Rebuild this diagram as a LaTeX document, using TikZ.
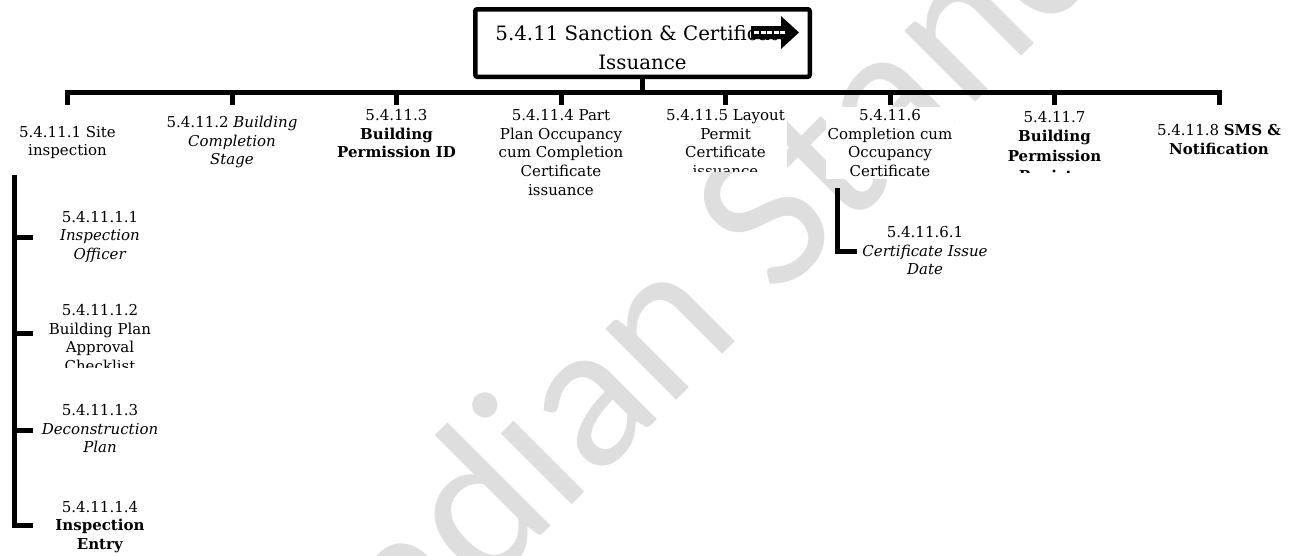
\documentclass[tikz,border=0pt]{standalone}
\usepackage{fontspec}
\setmainfont{DejaVu Serif}
\newfontfamily\wmfont{Carlito}
\begin{document}
\begin{tikzpicture}[x=1pt, y=-1pt, every node/.style={align=center, inner sep=2pt, fill=white, font=\fontsize{15}{18.8}\selectfont}]
\tikzset{conn/.style={line width=5pt}}
\useasboundingbox (0,0) rectangle (1289,555);

% watermark
\node[fill=none, inner sep=0pt, text=black!13, font=\wmfont\fontsize{210}{210}\selectfont, rotate=45] (wm) at (793,182) {Indian Standard};

% root box
\node[draw, line width=4.5pt, rounded corners=2pt, minimum width=334.5pt, minimum height=67.5pt] (root) at (642.5,43) {};
\node[fill=none, font=\fontsize{19.8}{29}\selectfont] (title) at (642.5,48) {5.4.11 Sanction \& Certificate\\Issuance};
\fill (751,26) -- (781,26) -- (781,16) -- (799,32.5) -- (781,49) -- (781,39) -- (751,39) -- cycle;
\draw[white, line width=2.5pt, dash pattern=on 5pt off 1.5pt] (754,32.5) -- (786,32.5);

% bus and drops
\coordinate (b0) at (642.5,92.5);
\coordinate (b1) at (67.5,92.5);
\coordinate (b2) at (232,92.5);
\coordinate (b3) at (396.5,92.5);
\coordinate (b4) at (561,92.5);
\coordinate (b5) at (725.5,92.5);
\coordinate (b6) at (890,92.5);
\coordinate (b7) at (1054.5,92.5);
\coordinate (b8) at (1219,92.5);
\coordinate (d1) at (67.5,105);
\coordinate (d2) at (232,105);
\coordinate (d3) at (396.5,105);
\coordinate (d4) at (561,105);
\coordinate (d5) at (725.5,105);
\coordinate (d6) at (890,105);
\coordinate (d7) at (1054.5,105);
\coordinate (d8) at (1219,105);

\node[anchor=north] (n1) at (67.5,123.7) {5.4.11.1 Site\\inspection};
\node[anchor=north] (n2) at (232,113.7) {5.4.11.2 \textit{Building}\\\textit{Completion}\\\textit{Stage}};
\node[anchor=north] (n3) at (396.5,107) {5.4.11.3\\\textbf{Building}\\\textbf{Permission ID}};
\node[anchor=north] (n4) at (561,107) {5.4.11.4 Part\\Plan Occupancy\\cum Completion\\Certificate\\issuance};
\begin{scope}
\clip (640,100) rectangle (810,171);
\node[anchor=north] (n5) at (725.5,107) {5.4.11.5 Layout\\Permit\\Certificate\\issuance};
\end{scope}
\node[anchor=north] (n6) at (890,107) {5.4.11.6\\Completion cum\\Occupancy\\Certificate};
\begin{scope}
\clip (970,100) rectangle (1140,172);
\node[anchor=north, font=\fontsize{15}{19.8}\selectfont] (n7) at (1054.5,108.7) {5.4.11.7\\\textbf{Building}\\\textbf{Permission}\\\textbf{Register}};
\end{scope}
\node[anchor=north] (n8) at (1219,122) {5.4.11.8 \textbf{SMS \&}\\\textbf{Notification}};

\draw[conn] (root.south) -- (b0);
\draw[conn] (d1) -- (b1) -- (b8) -- (d8);
\draw[conn] (b2) -- (d2);
\draw[conn] (b3) -- (d3);
\draw[conn] (b4) -- (d4);
\draw[conn] (b5) -- (d5);
\draw[conn] (b6) -- (d6);
\draw[conn] (b7) -- (d7);

% site inspection children
\coordinate (k0) at (14.5,175);
\coordinate (e1) at (33,237);
\coordinate (e2) at (33,333.5);
\coordinate (e3) at (33,430);
\coordinate (e4) at (33,525.5);
\node[anchor=north] (c1) at (100,208.7) {5.4.11.1.1\\\textit{Inspection}\\\textit{Officer}};
\begin{scope}
\clip (35,295) rectangle (170,367);
\node[anchor=north] (c2) at (100,302) {5.4.11.1.2\\Building Plan\\Approval\\Checklist};
\end{scope}
\node[anchor=north] (c3) at (100,402) {5.4.11.1.3\\\textit{Deconstruction}\\\textit{Plan}};
\node[anchor=north] (c4) at (100,498.7) {5.4.11.1.4\\\textbf{Inspection}\\\textbf{Entry}};
\draw[conn] (k0) |- (e4);
\draw[conn] (k0 |- e1) -- (e1);
\draw[conn] (k0 |- e2) -- (e2);
\draw[conn] (k0 |- e3) -- (e3);

% certificate child
\coordinate (g0) at (837.5,188);
\coordinate (g1) at (857,251);
\node[anchor=north] (c61) at (925,224) {5.4.11.6.1\\\textit{Certificate Issue}\\\textit{Date}};
\draw[conn] (g0) |- (g1);
\end{tikzpicture}
\end{document}
